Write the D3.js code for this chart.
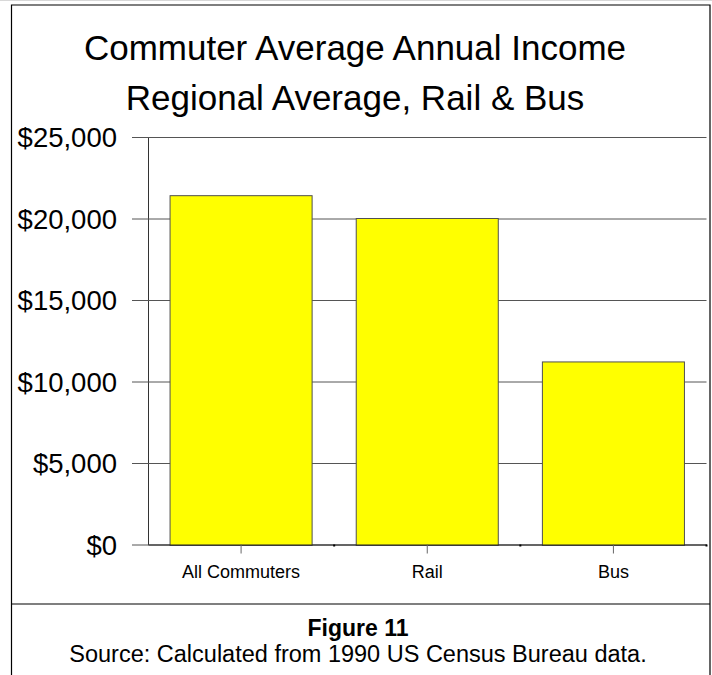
<!DOCTYPE html>
<html>
<head>
<meta charset="utf-8">
<script src="https://cdn.jsdelivr.net/npm/d3@7"></script>
<style>
  html, body { margin: 0; padding: 0; background: #fff; }
  svg { display: block; font-family: "Liberation Sans", Arial, Helvetica, sans-serif; }
</style>
</head>
<body>
<svg id="chart" width="712" height="675"></svg>
<script>
// Commuter average annual income, 1990
const categories = ["All Commuters", "Rail", "Bus"];
const incomes = [21400, 20000, 11200];
const yTicks = [0, 5000, 10000, 15000, 20000, 25000];
const titleLines = ["Commuter Average Annual Income", "Regional Average, Rail & Bus"];
const captionTitle = "Figure 11";
const captionSource = "Source: Calculated from 1990 US Census Bureau data.";

const svg = d3.select("#chart");
const W = 712, H = 675;

// frame around chart and caption
const frame = { left: 11.5, right: 710, top: 5, sep: 604 };
svg.append("line").attr("x1", 0).attr("x2", W).attr("y1", 0.5).attr("y2", 0.5)
  .attr("stroke", "#d8d8d8").attr("stroke-width", 1);
svg.append("path")
  .attr("d", `M${frame.left},${H + 2}V${frame.top}H${frame.right}V${H + 2}`)
  .attr("fill", "none").attr("stroke", "#000").attr("stroke-width", 1.2);
svg.append("line")
  .attr("x1", frame.left).attr("x2", frame.right)
  .attr("y1", frame.sep).attr("y2", frame.sep)
  .attr("stroke", "#000").attr("stroke-width", 1.2);

const titleX = 355;
const captionX = 358;

// titles
svg.selectAll("text.title").data(titleLines).join("text")
  .attr("class", "title")
  .attr("x", titleX)
  .attr("y", (d, i) => 60 + i * 50)
  .attr("text-anchor", "middle")
  .attr("font-size", 35)
  .attr("fill", "#000")
  .text(d => d);

// plot area
const plot = { left: 148, right: 706.5, top: 137, bottom: 544.5 };

const y = d3.scaleLinear().domain([0, 25000]).range([plot.bottom, plot.top]);
const x = d3.scaleBand().domain(categories)
  .range([plot.left, plot.right])
  .paddingInner(0.237).paddingOuter(0.1185);

const fmt = d => "$" + d3.format(",")(d);

// gridlines with outward ticks
const yAxis = d3.axisLeft(y).tickValues(yTicks).tickFormat(fmt)
  .tickSizeInner(-(plot.right - plot.left)).tickSizeOuter(0).tickPadding(0);
const gy = svg.append("g").attr("transform", `translate(${plot.left},0)`).call(yAxis);
gy.select(".domain").attr("stroke", "#333").attr("stroke-width", 1);
gy.selectAll(".tick line").attr("stroke", "#555").attr("stroke-width", 1);
gy.selectAll(".tick").append("line")
  .attr("x1", -16).attr("x2", 0).attr("stroke", "#555").attr("stroke-width", 1);
gy.selectAll(".tick text")
  .attr("x", -31)
  .attr("dy", "0.36em")
  .attr("font-size", 27.5)
  .attr("font-family", "Liberation Sans, Arial, sans-serif")
  .attr("fill", "#000");

// bars
svg.selectAll("rect.bar").data(categories).join("rect")
  .attr("class", "bar")
  .attr("x", d => x(d))
  .attr("width", x.bandwidth())
  .attr("y", (d, i) => y(incomes[i]))
  .attr("height", (d, i) => y(0) - y(incomes[i]) + 1)
  .attr("fill", "#ffff00")
  .attr("stroke", "#505050")
  .attr("stroke-width", 1);

// category axis
const xAxis = d3.axisBottom(x).tickSizeInner(9).tickSizeOuter(0).tickPadding(12);
const gx = svg.append("g").attr("transform", `translate(0,${plot.bottom})`).call(xAxis);
gx.select(".domain").attr("stroke", "#222").attr("stroke-width", 1.2);
gx.selectAll(".tick line").attr("stroke", "#666");
gx.selectAll(".tick text")
  .attr("font-size", 18)
  .attr("font-family", "Liberation Sans, Arial, sans-serif")
  .attr("fill", "#000");

// small marks at category boundaries
const bounds = categories.slice(1).map(c => x(c) - x.step() * x.paddingInner() / 2).concat([plot.right]);
gx.selectAll("rect.bound").data(bounds).join("rect")
  .attr("class", "bound")
  .attr("x", d => d - 1).attr("y", 0)
  .attr("width", 2).attr("height", 2)
  .attr("fill", "#000");

// caption
svg.append("text")
  .attr("x", captionX).attr("y", 636)
  .attr("text-anchor", "middle")
  .attr("font-size", 23).attr("font-weight", "bold")
  .text(captionTitle);
svg.append("text")
  .attr("x", captionX).attr("y", 661.5)
  .attr("text-anchor", "middle")
  .attr("font-size", 23.5)
  .text(captionSource);
</script>
</body>
</html>
